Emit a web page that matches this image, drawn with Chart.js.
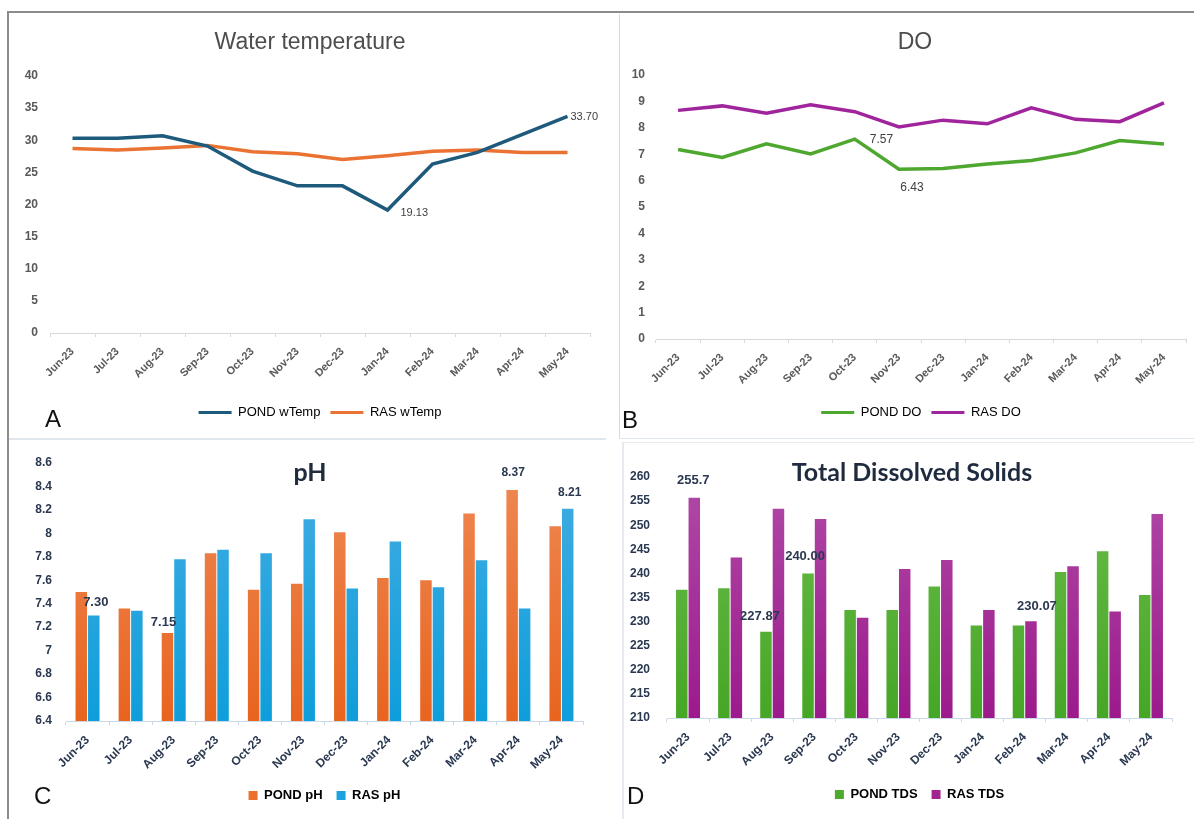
<!DOCTYPE html>
<html>
<head>
<meta charset="utf-8">
<script src="https://cdn.jsdelivr.net/npm/chart.js@4.4.1/dist/chart.umd.min.js"></script>
<style>
  html, body { margin: 0; padding: 0; background: #fff; }
  body { width: 1194px; height: 819px; position: relative; overflow: hidden; font-family: 'Liberation Sans', Arial, sans-serif; }
  canvas { position: absolute; }
  .rule { position: absolute; z-index: 2; }
</style>
</head>
<body>
<canvas id="tempChart" style="left:8px;top:12px;width:597px;height:426px" width="597" height="426"></canvas>
<canvas id="doChart"   style="left:619px;top:12px;width:575px;height:426px" width="575" height="426"></canvas>
<canvas id="phChart"   style="left:8px;top:440px;width:597px;height:379px" width="597" height="379"></canvas>
<canvas id="tdsChart"  style="left:622px;top:443px;width:572px;height:376px" width="572" height="376"></canvas>

<div class="rule" style="left:8px;top:11px;width:1186px;height:2px;background:#8c8c8c"></div>
<div class="rule" style="left:7px;top:11px;width:2px;height:808px;background:#8c8c8c"></div>
<div class="rule" style="left:619px;top:14px;width:1px;height:425px;background:#dadada"></div>
<div class="rule" style="left:9px;top:438px;width:597px;height:2px;background:#dfe6ee"></div>
<div class="rule" style="left:619px;top:438px;width:575px;height:1px;background:#dfe6ee"></div>
<div class="rule" style="left:622px;top:442px;width:572px;height:1px;background:#e6ebf1"></div>
<div class="rule" style="left:622px;top:442px;width:2px;height:377px;background:#e6ebf1"></div>

<script>
// ---- data ----
const months = ['Jun-23', 'Jul-23', 'Aug-23', 'Sep-23', 'Oct-23', 'Nov-23',
                'Dec-23', 'Jan-24', 'Feb-24', 'Mar-24', 'Apr-24', 'May-24'];

const pondTemp = [30.3, 30.3, 30.7, 29.1, 25.2, 22.9, 22.9, 19.13, 26.3, 28.1, 30.9, 33.70];
const rasTemp  = [28.7, 28.5, 28.8, 29.2, 28.2, 27.9, 27.0, 27.6, 28.3, 28.5, 28.1, 28.1];
const tempTicks = [0, 5, 10, 15, 20, 25, 30, 35, 40];

const pondDO = [7.18, 6.88, 7.39, 7.01, 7.57, 6.43, 6.46, 6.63, 6.76, 7.05, 7.52, 7.39];
const rasDO  = [8.66, 8.83, 8.55, 8.87, 8.61, 8.03, 8.29, 8.15, 8.76, 8.32, 8.23, 8.94];
const doTicks = [0, 1, 2, 3, 4, 5, 6, 7, 8, 9, 10];

const pondPH = [7.50, 7.36, 7.15, 7.83, 7.52, 7.57, 8.01, 7.62, 7.60, 8.17, 8.37, 8.06];
const rasPH  = [7.30, 7.34, 7.78, 7.86, 7.83, 8.12, 7.53, 7.93, 7.54, 7.77, 7.36, 8.21];
const phTicks = [6.4, 6.6, 6.8, 7, 7.2, 7.4, 7.6, 7.8, 8, 8.2, 8.4, 8.6];

const pondTDS = [236.6, 236.9, 227.87, 240.00, 232.4, 232.4, 237.3, 229.2, 229.2, 240.3, 244.6, 235.5];
const rasTDS  = [255.7, 243.3, 253.4, 251.3, 230.8, 240.9, 242.8, 232.4, 230.07, 241.5, 232.1, 252.3];
const tdsTicks = [210, 215, 220, 225, 230, 235, 240, 245, 250, 255, 260];

// ---- shared styling ----
const GREY = '#595959';
const NAVY = '#2a3850';
const SANS = "'Liberation Sans', Arial, sans-serif";
const LATO = "Lato, 'Liberation Sans', Arial, sans-serif";

// value labels drawn next to chosen points / bars
const valueNotes = {
  id: 'valueNotes',
  afterDatasetsDraw(chart, args, opts) {
    const ctx = chart.ctx;
    (opts.items || []).forEach(n => {
      const ds = chart.data.datasets[n.ds];
      const el = chart.getDatasetMeta(n.ds).data[n.i];
      const v = ds.data[n.i];
      ctx.save();
      ctx.font = n.font || opts.font;
      ctx.fillStyle = opts.color;
      ctx.textAlign = n.align || 'center';
      ctx.textBaseline = 'middle';
      ctx.fillText(v.toFixed(n.digits), el.x + n.dx, el.y + n.dy);
      ctx.restore();
    });
  }
};

// panel heading and panel letter
const panelText = {
  id: 'panelText',
  afterDraw(chart, args, opts) {
    const ctx = chart.ctx;
    (opts.items || []).forEach(t => {
      ctx.save();
      ctx.font = t.font;
      ctx.fillStyle = t.color;
      ctx.textAlign = t.align || 'center';
      ctx.textBaseline = 'middle';
      ctx.fillText(t.text, t.x, t.y);
      ctx.restore();
    });
  }
};

function barFill(light, dark) {
  return c => {
    const area = c.chart.chartArea;
    if (!area) return dark;
    const g = c.chart.ctx.createLinearGradient(0, area.top, 0, area.bottom);
    g.addColorStop(0, light);
    g.addColorStop(1, dark);
    return g;
  };
}

function legendItems(boxW, boxH, gap, font, color) {
  return {
    display: true,
    position: 'bottom',
    fullSize: false,
    labels: {
      boxWidth: boxW,
      boxHeight: boxH,
      padding: gap,
      color: color,
      font: font,
      generateLabels: chart => chart.data.datasets.map((ds, i) => ({
        text: ds.label,
        fillStyle: ds.legendColor,
        strokeStyle: ds.legendColor,
        lineWidth: 0,
        hidden: false,
        datasetIndex: i
      }))
    }
  };
}

function makeChart(id, cfg) {
  const ticksFrom = list => s => { s.ticks = list.map(v => ({ value: v })); };
  return new Chart(document.getElementById(id), {
    type: cfg.type,
    data: { labels: months, datasets: cfg.datasets },
    options: {
      responsive: false,
      animation: false,
      devicePixelRatio: 1,
      layout: { padding: cfg.pad },
      plugins: {
        legend: cfg.legend,
        title: { display: false },
        tooltip: { enabled: false },
        valueNotes: cfg.notes,
        panelText: { items: cfg.texts }
      },
      scales: {
        x: {
          offset: true,
          grid: { display: true, offset: true, drawOnChartArea: false, drawTicks: true,
                  tickLength: 4, color: cfg.axisColor },
          border: { display: true, color: cfg.axisColor, width: 1 },
          ticks: { autoSkip: false, minRotation: 45, maxRotation: 45, padding: cfg.xPad,
                   color: cfg.tickColor, font: cfg.tickFont },
          afterFit: s => { s.height = cfg.xHeight; }
        },
        y: {
          min: cfg.ticks[0],
          max: cfg.ticks[cfg.ticks.length - 1],
          grid: { display: false, drawTicks: false },
          border: { display: false },
          afterBuildTicks: ticksFrom(cfg.ticks),
          ticks: { padding: cfg.yPad, color: cfg.tickColor, font: cfg.yFont || cfg.tickFont,
                   callback: v => String(Number(v.toFixed(1))) },
          afterFit: s => { s.width = cfg.yWidth; }
        }
      }
    },
    plugins: [valueNotes, panelText]
  });
}

// A: water temperature
makeChart('tempChart', {
  type: 'line',
  datasets: [
    { label: 'POND wTemp', data: pondTemp, borderColor: '#1d5a7c', legendColor: '#1d5a7c',
      borderWidth: 3.5, pointRadius: 0, tension: 0 },
    { label: 'RAS wTemp', data: rasTemp, borderColor: '#ea7233', legendColor: '#ea7233',
      borderWidth: 3.5, pointRadius: 0, tension: 0 }
  ],
  ticks: tempTicks,
  pad: { left: 0, right: 15, top: 64, bottom: 9 },
  yWidth: 42, yPad: 12, xHeight: 63, xPad: 8,
  axisColor: '#d9d9d9', tickColor: GREY,
  tickFont: { family: SANS, size: 11, weight: 'bold' },
  yFont: { family: SANS, size: 12, weight: 'bold' },
  legend: legendItems(33, 3, 10, { family: SANS, size: 13 }, GREY),
  notes: { color: '#404040', font: "11px " + SANS, items: [
    { ds: 0, i: 11, digits: 2, dx: 3, dy: 0, align: 'left' },
    { ds: 0, i: 7, digits: 2, dx: 13, dy: 3, align: 'left' }
  ]},
  texts: [
    { text: 'Water temperature', x: 302, y: 31, font: "23px " + SANS, color: '#4d4d4d' },
    { text: 'A', x: 37, y: 408, font: "24px " + SANS, color: '#111', align: 'left' }
  ]
});

// B: dissolved oxygen
makeChart('doChart', {
  type: 'line',
  datasets: [
    { label: 'POND DO', data: pondDO, borderColor: '#4ea72e', legendColor: '#4ea72e',
      borderWidth: 3.5, pointRadius: 0, tension: 0 },
    { label: 'RAS DO', data: rasDO, borderColor: '#a0249c', legendColor: '#a0249c',
      borderWidth: 3.5, pointRadius: 0, tension: 0 }
  ],
  ticks: doTicks,
  pad: { left: 0, right: 8, top: 63, bottom: 9 },
  yWidth: 37, yPad: 11, xHeight: 57, xPad: 8,
  axisColor: '#d9d9d9', tickColor: GREY,
  tickFont: { family: SANS, size: 11, weight: 'bold' },
  yFont: { family: SANS, size: 12, weight: 'bold' },
  legend: legendItems(33, 3, 10, { family: SANS, size: 13 }, GREY),
  notes: { color: '#404040', font: "12px " + SANS, items: [
    { ds: 0, i: 4, digits: 2, dx: 15, dy: 1, align: 'left' },
    { ds: 0, i: 5, digits: 2, dx: 13, dy: 18, align: 'center' }
  ]},
  texts: [
    { text: 'DO', x: 296, y: 31, font: "23px " + SANS, color: '#4d4d4d' },
    { text: 'B', x: 3, y: 409, font: "24px " + SANS, color: '#111', align: 'left' }
  ]
});

// C: pH
makeChart('phChart', {
  type: 'bar',
  datasets: [
    { label: 'POND pH', data: pondPH, backgroundColor: barFill('#ef8a55', '#e8641f'),
      legendColor: '#ec6f2c', categoryPercentage: 0.58, barPercentage: 0.92 },
    { label: 'RAS pH', data: rasPH, backgroundColor: barFill('#45ade2', '#0e9edb'),
      legendColor: '#1ca3df', categoryPercentage: 0.58, barPercentage: 0.92 }
  ],
  ticks: phTicks,
  pad: { left: 0, right: 22, top: 23, bottom: 7 },
  yWidth: 58, yPad: 14, xHeight: 54, xPad: 8,
  axisColor: '#cbd9e8', tickColor: NAVY,
  tickFont: { family: SANS, size: 12, weight: 'bold' },
  legend: legendItems(9, 9, 14, { family: SANS, size: 13, weight: 'bold' }, NAVY),
  notes: { color: NAVY, font: "bold 13px " + SANS, items: [
    { ds: 1, i: 0, digits: 2, dx: 2, dy: -13 },
    { ds: 0, i: 2, digits: 2, dx: -4, dy: -11 },
    { ds: 0, i: 10, digits: 2, dx: 1, dy: -17, font: "bold 12px " + SANS },
    { ds: 1, i: 11, digits: 2, dx: 2, dy: -16, font: "bold 12px " + SANS }
  ]},
  texts: [
    { text: 'pH', x: 302, y: 33, font: "bold 25px " + LATO, color: '#1f2b3e' },
    { text: 'C', x: 26, y: 357, font: "24px " + SANS, color: '#111', align: 'left' }
  ]
});

// D: total dissolved solids
makeChart('tdsChart', {
  type: 'bar',
  datasets: [
    { label: 'POND TDS', data: pondTDS, backgroundColor: barFill('#6cbd4c', '#46a625'),
      legendColor: '#4eaa2c', categoryPercentage: 0.594, barPercentage: 0.92 },
    { label: 'RAS TDS', data: rasTDS, backgroundColor: barFill('#b04aa6', '#9c1a8c'),
      legendColor: '#a1248f', categoryPercentage: 0.594, barPercentage: 0.92 }
  ],
  ticks: tdsTicks,
  pad: { left: 0, right: 22, top: 34, bottom: 8 },
  yWidth: 45, yPad: 17, xHeight: 56, xPad: 8,
  axisColor: '#cbd9e8', tickColor: NAVY,
  tickFont: { family: SANS, size: 12, weight: 'bold' },
  legend: legendItems(9, 9, 14, { family: SANS, size: 13, weight: 'bold' }, NAVY),
  notes: { color: NAVY, font: "bold 13px " + SANS, items: [
    { ds: 1, i: 0, digits: 1, dx: -1, dy: -17 },
    { ds: 0, i: 2, digits: 2, dx: -6, dy: -15 },
    { ds: 0, i: 3, digits: 2, dx: -3, dy: -17 },
    { ds: 1, i: 8, digits: 2, dx: 6, dy: -15 }
  ]},
  texts: [
    { text: 'Total Dissolved Solids', x: 290, y: 30, font: "bold 25px " + LATO, color: '#1f2b3e' },
    { text: 'D', x: 5, y: 354, font: "24px " + SANS, color: '#111', align: 'left' }
  ]
});
</script>
</body>
</html>
